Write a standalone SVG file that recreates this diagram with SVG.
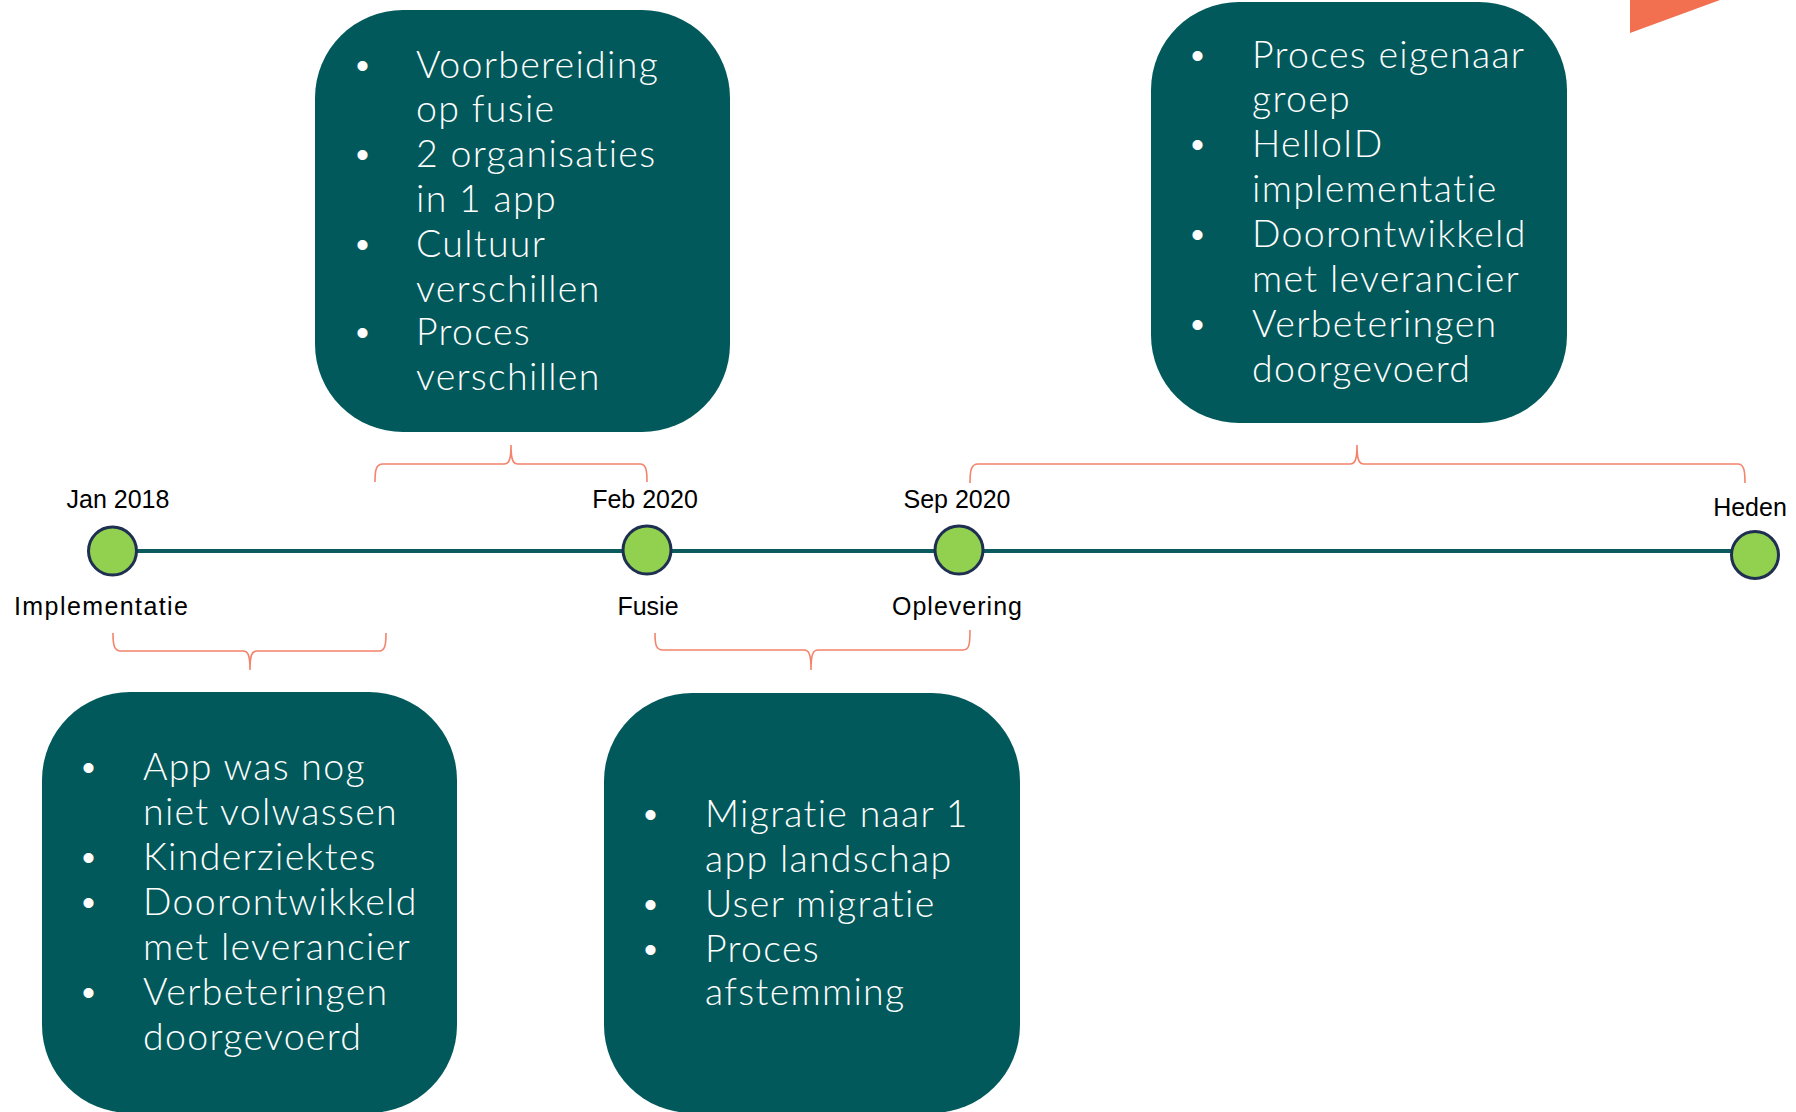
<svg xmlns="http://www.w3.org/2000/svg" width="1796" height="1112" viewBox="0 0 1796 1112">
<style>
.box{fill:#02595b}
.bt{font-family:Lato,"Open Sans",sans-serif;font-size:37.5px;font-weight:300;letter-spacing:1.3px;font-variant-ligatures:none;fill:#ffffff}
.bu{font-family:"Liberation Sans",Arial,sans-serif;font-size:37px;fill:#ffffff}
.lbl{font-family:"Liberation Sans",Arial,sans-serif;font-size:25px;fill:#000000;text-anchor:middle}
.dot{fill:#92d050;stroke:#1f2f52;stroke-width:3}
.br{fill:none;stroke:#f4836b;stroke-width:1.6}
</style>
<rect width="1796" height="1112" fill="#ffffff"/>
<polygon points="1630,0 1720,0 1630,33" fill="#f26f50"/>

<g id="connectors">
<line x1="113" y1="551" x2="1755" y2="551" stroke="#0a5a5e" stroke-width="4"/>
<path class="br" d="M375 482 C375 470 376 464 383 464 L504 464 C509 464 511 460 511 445 C511 460 513 464 518 464 L640 464 C646 464 647 470 647 482"/>
<path class="br" d="M970 483 C970 471 971 464 978 464 L1350 464 C1355 464 1357 460 1357 445 C1357 460 1359 464 1364 464 L1738 464 C1744 464 1745 471 1745 483"/>
<path class="br" d="M113 633 C113 645 114 651 121 651 L243 651 C248 651 250 655 250 670 C250 655 252 651 257 651 L379 651 C385 651 386 645 386 633"/>
<path class="br" d="M655 633 C655 645 656 650 663 650 L804 650 C809 650 811 654 811 670 C811 654 813 650 818 650 L963 650 C969 650 970 645 970 630"/>
</g>

<g id="m-jan2018">
<circle class="dot" cx="112.5" cy="551" r="24"/>
<text class="lbl" x="118" y="508">Jan 2018</text>
<text class="lbl" x="101" y="615" textLength="174" lengthAdjust="spacing">Implementatie</text>
</g>
<g id="m-feb2020">
<circle class="dot" cx="647" cy="550" r="24"/>
<text class="lbl" x="645" y="508">Feb 2020</text>
<text class="lbl" x="648" y="615">Fusie</text>
</g>
<g id="m-sep2020">
<circle class="dot" cx="959" cy="550" r="24"/>
<text class="lbl" x="957" y="508">Sep 2020</text>
<text class="lbl" x="957" y="615" textLength="130" lengthAdjust="spacing">Oplevering</text>
</g>
<g id="m-heden">
<circle class="dot" cx="1755" cy="555" r="23.5"/>
<text class="lbl" x="1750" y="516">Heden</text>
</g>

<g id="box-fusie-prep">
<rect class="box" x="315" y="10" width="415" height="422" rx="88" ry="88"/>
<text class="bu" x="356" y="78">•</text><text class="bt" x="416" y="78">Voorbereiding</text>
<text class="bt" x="416" y="122">op fusie</text>
<text class="bu" x="356" y="167">•</text><text class="bt" x="416" y="167">2 organisaties</text>
<text class="bt" x="416" y="212">in 1 app</text>
<text class="bu" x="356" y="257">•</text><text class="bt" x="416" y="257">Cultuur</text>
<text class="bt" x="416" y="302">verschillen</text>
<text class="bu" x="356" y="345">•</text><text class="bt" x="416" y="345">Proces</text>
<text class="bt" x="416" y="390">verschillen</text>
</g>

<g id="box-heden">
<rect class="box" x="1151" y="2" width="416" height="421" rx="88" ry="88"/>
<text class="bu" x="1191" y="68">•</text><text class="bt" x="1252" y="68">Proces eigenaar</text>
<text class="bt" x="1252" y="112">groep</text>
<text class="bu" x="1191" y="157">•</text><text class="bt" x="1252" y="157">HelloID</text>
<text class="bt" x="1252" y="202">implementatie</text>
<text class="bu" x="1191" y="247">•</text><text class="bt" x="1252" y="247">Doorontwikkeld</text>
<text class="bt" x="1252" y="292">met leverancier</text>
<text class="bu" x="1191" y="337">•</text><text class="bt" x="1252" y="337">Verbeteringen</text>
<text class="bt" x="1252" y="382">doorgevoerd</text>
</g>

<g id="box-implementatie">
<rect class="box" x="42" y="692" width="415" height="421" rx="88" ry="88"/>
<text class="bu" x="82" y="780">•</text><text class="bt" x="143" y="780">App was nog</text>
<text class="bt" x="143" y="825">niet volwassen</text>
<text class="bu" x="82" y="870">•</text><text class="bt" x="143" y="870">Kinderziektes</text>
<text class="bu" x="82" y="915">•</text><text class="bt" x="143" y="915">Doorontwikkeld</text>
<text class="bt" x="143" y="960">met leverancier</text>
<text class="bu" x="82" y="1005">•</text><text class="bt" x="143" y="1005">Verbeteringen</text>
<text class="bt" x="143" y="1050">doorgevoerd</text>
</g>

<g id="box-fusie">
<rect class="box" x="604" y="693" width="416" height="420" rx="88" ry="88"/>
<text class="bu" x="644" y="827">•</text><text class="bt" x="705" y="827">Migratie naar 1</text>
<text class="bt" x="705" y="872">app landschap</text>
<text class="bu" x="644" y="917">•</text><text class="bt" x="705" y="917">User migratie</text>
<text class="bu" x="644" y="962">•</text><text class="bt" x="705" y="962">Proces</text>
<text class="bt" x="705" y="1005">afstemming</text>
</g>
</svg>
